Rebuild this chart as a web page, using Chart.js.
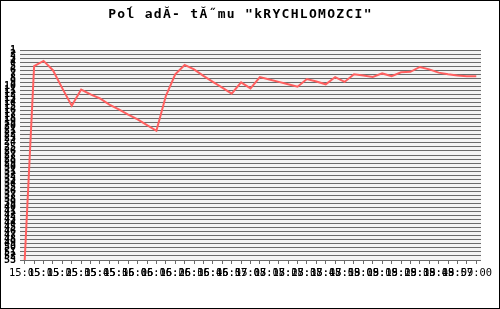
<!DOCTYPE html>
<html>
<head>
<meta charset="utf-8">
<script src="https://cdn.jsdelivr.net/npm/chart.js@4"></script>
<style>
    html, body { margin: 0; padding: 0; background: #fff; }
</style>
</head>
<body>
<canvas id="rankChart" width="500" height="309"></canvas>
<script>
// Time of each sample (one point every ~5 s)
const times = [
    '15:05:10', '15:05:15', '15:05:20', '15:05:25', '15:05:30', '15:05:35', '15:05:40',
    '15:05:45', '15:05:50', '15:05:56', '15:06:01', '15:06:06', '15:06:11', '15:06:16',
    '15:06:21', '15:06:26', '15:06:31', '15:06:36', '15:06:41', '15:06:46', '15:06:51',
    '15:06:57', '15:07:02', '15:07:08', '15:07:13', '15:07:18', '15:07:23', '15:07:28',
    '15:07:33', '15:07:38', '15:07:43', '15:07:48', '15:07:53', '15:07:59', '15:08:04',
    '15:08:09', '15:08:14', '15:08:19', '15:08:24', '15:08:29', '15:08:34', '15:08:39',
    '15:08:44', '15:08:49', '15:08:54', '15:08:57', '15:08:58', '15:09:00', '15:09:05'
];

// Team position at each sample
const ranks = [
    53, 5, 3.7, 6, 10.5, 14.8, 10.8, 12, 13, 14.5, 15.7, 17, 18.2, 19.6, 21,
    12.4, 7, 4.7, 5.8, 7.4, 8.9, 10.3, 11.8, 9, 10.5, 7.7, 8.3, 8.9, 9.5, 10.1,
    8.2, 8.8, 9.5, 7.7, 8.9, 7, 7.3, 7.7, 6.8, 7.5, 6.5, 6.4, 5.2, 5.8, 6.6,
    7, 7.3, 7.5, 7.5
];

// y axis: one tick per position
const rankFirst = 1;
const rankLast = 53;

const monoFont = 'DejaVu Sans Mono';

// light plot background + black frame round the picture
const plotFrame = {
    id: 'plotFrame',
    beforeDraw(chart) {
        const { ctx, chartArea: a } = chart;
        ctx.save();
        ctx.fillStyle = '#f3f3f3';
        ctx.fillRect(a.left, a.top, a.right - a.left, a.bottom - a.top);
        ctx.restore();
        ctx.letterSpacing = '1.3px';   // wide title, like the bitmap font
    },
    beforeDatasetsDraw(chart) {
        chart.ctx.letterSpacing = '0px';
    },
    afterDraw(chart) {
        const ctx = chart.ctx;
        ctx.save();
        ctx.strokeStyle = '#000';
        ctx.lineWidth = 1;
        ctx.strokeRect(0.5, 0.5, chart.width - 1, chart.height - 1);
        ctx.restore();
    }
};

new Chart(document.getElementById('rankChart'), {
    type: 'line',
    data: {
        labels: times,
        datasets: [{
            data: ranks,
            borderColor: '#ff6060',
            borderWidth: 2,
            pointRadius: 0,
            tension: 0,
            fill: false
        }]
    },
    options: {
        responsive: false,
        animation: false,
        devicePixelRatio: 1,
        layout: { padding: { left: 0, right: 19, top: 0, bottom: 0 } },
        plugins: {
            legend: { display: false },
            tooltip: { enabled: false },
            title: {
                display: true,
                text: 'Poĺ adĂ- tĂ˝mu "kRYCHLOMOZCI"',
                color: '#000',
                font: { family: monoFont, size: 13, weight: 'bold' },
                padding: { top: 6.5, bottom: 27.9 }
            }
        },
        scales: {
            x: {
                offset: true,
                afterFit: s => { s.height = 49; },
                grid: { drawOnChartArea: false, drawTicks: true, tickLength: 4, color: '#6b6b6b', offset: false, z: 1 },
                border: { display: true, color: '#6b6b6b' },
                ticks: {
                    autoSkip: false, maxRotation: 0, minRotation: 0, padding: 3, z: 1,
                    color: '#000',
                    font: { family: monoFont, size: 10.4 },
                    callback: (v, i) => (i % 2 === 1 ? times[i] : '')
                }
            },
            y: {
                reverse: true,
                min: rankFirst,
                max: rankLast,
                afterFit: s => { s.width = 20; },
                grid: { color: '#6b6b6b', drawTicks: false },
                border: { display: false },
                ticks: {
                    stepSize: 1, autoSkip: false, padding: 4, z: 1,
                    color: '#000',
                    font: { family: monoFont, size: 10, weight: 'bold' }
                }
            }
        }
    },
    plugins: [plotFrame]
});
</script>
</body>
</html>
